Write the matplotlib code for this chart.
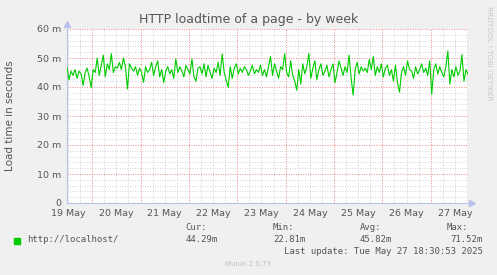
import matplotlib
matplotlib.use("Agg")
import matplotlib.pyplot as plt
import numpy as np

# Load time samples (milliseconds), roughly every ~1h from 19 May 11:30 to 27 May 18:30
load_ms = [
    46.8, 42.5, 45.5, 44.0, 46.0, 43.0, 45.5, 44.5, 40.5, 45.0,
    46.5, 43.5, 39.8, 46.0, 45.0, 50.0, 44.0, 47.5, 51.0, 43.5,
    48.0, 46.0, 51.5, 45.0, 47.0, 46.5, 48.5, 46.0, 50.0, 47.0,
    39.3, 48.0, 46.5, 45.5, 47.0, 44.0, 46.5, 45.0, 41.6, 47.0,
    45.0, 46.0, 48.5, 44.0, 47.0, 49.0, 43.5, 46.0, 41.5, 45.5,
    47.0, 44.5, 46.0, 43.0, 49.7, 45.0, 47.0, 45.5, 43.5, 47.5,
    46.0, 44.5, 49.7, 43.5, 42.0, 46.5, 47.0, 44.5, 48.0, 43.5,
    47.5, 45.0, 43.0, 46.5, 45.0, 48.5, 44.0, 51.4, 45.0, 42.5,
    39.9, 47.0, 43.0, 46.5, 48.0, 44.5, 46.5, 45.0, 47.0, 46.0,
    44.0, 45.5, 47.5, 44.5, 46.0, 45.0, 47.5, 44.0, 46.0, 43.5,
    47.0, 50.5, 44.0, 48.0, 45.5, 43.0, 47.0, 46.0, 51.5, 45.0,
    43.5, 49.0, 44.0, 42.0, 38.9, 46.0, 41.0, 48.0, 44.5, 47.0,
    51.5, 43.0, 46.5, 49.0, 42.5, 46.0, 48.0, 44.0, 45.5, 47.5,
    43.5, 46.0, 48.0, 41.5, 45.0, 49.0, 46.5, 44.0, 47.0, 45.0,
    51.0, 43.0, 37.2, 46.0, 48.5, 44.5, 47.0, 45.5, 46.5, 45.0,
    49.5, 46.0, 50.5, 44.0, 47.0, 45.0, 48.0, 43.5, 46.5, 47.5,
    44.0, 46.0, 42.0, 47.5, 41.5, 38.2, 45.0, 47.0, 44.0, 49.0,
    46.0, 45.5, 43.0, 47.0, 44.5, 46.0, 48.0, 45.0, 46.5, 44.0,
    49.0, 37.5, 46.0, 48.0, 44.5, 47.0, 45.0, 43.5, 47.0, 52.4,
    41.0, 46.0, 43.5, 47.0, 44.0, 45.5, 51.2, 42.0, 46.0, 44.3,
]
start_day = 0.48   # days after 19 May 00:00
end_day = 8.77
day_labels = ["19 May", "20 May", "21 May", "22 May", "23 May",
              "24 May", "25 May", "26 May", "27 May"]
y_ticks = [0, 10, 20, 30, 40, 50, 60]
y_labels = ["0", "10 m", "20 m", "30 m", "40 m", "50 m", "60 m"]

legend_name = "http://localhost/"
cur_val, min_val, avg_val, max_val = "44.29m", "22.81m", "45.82m", "71.52m"
last_update = "Last update: Tue May 27 18:30:53 2025"

BG = "#f0f0f0"
TXT = "#555555"
LINE = "#00cc00"
MAJOR = "#f08888"
MINOR = "#c4c4c4"
AXIS = "#b8c0ec"

days = np.linspace(start_day, end_day, len(load_ms))

fig = plt.figure(figsize=(4.97, 2.75), dpi=100, facecolor=BG)
ax = fig.add_axes([67 / 497, 72 / 275, 401 / 497, 174 / 275])
ax.set_facecolor("white")

# grid
for d in np.arange(0.5, 9, 0.25):
    if d > start_day and abs(d - round(d)) > 0.01:
        ax.axvline(d, color=MINOR, lw=0.6, ls=(0, (1, 2)), zorder=1)
for v in range(2, 61, 2):
    if v % 10:
        ax.axhline(v, color=MINOR, lw=0.6, ls=(0, (1, 2)), zorder=1)
for d in range(1, 9):
    ax.axvline(d, color=MAJOR, lw=0.7, ls=(0, (1, 1.5)), zorder=2)
for v in range(10, 61, 10):
    ax.axhline(v, color=MAJOR, lw=0.7, ls=(0, (1, 1.5)), zorder=2)

ax.plot(days, load_ms, color=LINE, lw=0.8, zorder=3)

ax.set_xlim(start_day, end_day)
ax.set_ylim(0, 60)
ax.set_xticks([i + 0.5 for i in range(len(day_labels))])
ax.set_xticklabels(day_labels)
ax.set_yticks(y_ticks)
ax.set_yticklabels(y_labels)
ax.tick_params(axis="both", colors=TXT, labelsize=6.8, length=0, pad=4)
ax.tick_params(axis="x", pad=4)

for s in ["top", "right"]:
    ax.spines[s].set_visible(False)
for s in ["left", "bottom"]:
    ax.spines[s].set_color(AXIS)
    ax.spines[s].set_linewidth(0.8)
ax.plot([0], [1.03], marker="^", ms=4, color=AXIS, transform=ax.transAxes, clip_on=False)
ax.plot([1.01], [0], marker=">", ms=4, color=AXIS, transform=ax.transAxes, clip_on=False)

fig.text(10 / 497, 1 - 116 / 275, "Load time in seconds", rotation=90, ha="center",
         va="center", color=TXT, fontsize=7.5)

fig.text(0.5, 1 - 19 / 275, "HTTP loadtime of a page - by week", ha="center", va="center",
         color=TXT, fontsize=9)
fig.text(489 / 497, 1 - 53 / 275, "RRDTOOL / TOBI OETIKER", rotation=270, ha="center",
         va="center", color="#c8c8c8", fontsize=5.3)

mono = dict(family="DejaVu Sans Mono", fontsize=6.5, color=TXT, va="center")
fig.patches.append(plt.Rectangle((14 / 497, 1 - 244 / 275), 6 / 497, 6 / 275,
                                 transform=fig.transFigure, color=LINE, figure=fig))
fig.text(27 / 497, 1 - 239 / 275, legend_name, **mono)
for x, head, val in [(185, "Cur:", cur_val), (273, "Min:", min_val), (360, "Avg:", avg_val)]:
    fig.text(x / 497, 1 - 228 / 275, head, **mono)
    fig.text(x / 497, 1 - 239 / 275, val, **mono)
fig.text(447 / 497, 1 - 228 / 275, "Max:", **mono)
fig.text(483 / 497, 1 - 239 / 275, max_val, ha="right", **mono)
fig.text(483 / 497, 1 - 251 / 275, last_update, ha="right", **mono)
fig.text(248 / 497, 1 - 264 / 275, "Munin 2.0.73", ha="center", va="center",
         color="#c0c0c0", fontsize=5)

fig.savefig("out.png", dpi=100, facecolor=BG)
